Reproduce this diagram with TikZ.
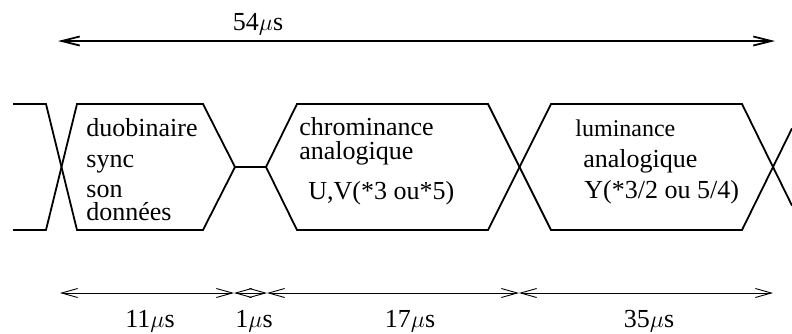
\documentclass[tikz,border=0pt]{standalone}
\usepackage{fontspec}
\setmainfont{Liberation Serif}
\usetikzlibrary{arrows.meta}

\begin{document}
\begin{tikzpicture}[
    x=0.5pt, y=-0.5pt,
    wave/.style={line width=0.9pt, line join=miter},
    span/.style={line width=0.9pt, {Straight Barb[length=9pt,width=4.5pt]}-{Straight Barb[length=9pt,width=4.5pt]}},
    part/.style={line width=0.45pt, {Straight Barb[length=8pt,width=4.5pt]}-{Straight Barb[length=8pt,width=4.5pt]}},
    txt/.style={anchor=base west, inner sep=0pt, font=\fontsize{13}{15}\selectfont},
    small/.style={txt, font=\fontsize{12}{14}\selectfont},
    dur/.style={anchor=base, inner sep=0pt, font=\fontsize{13}{15}\selectfont}
]
    \useasboundingbox (0,0) rectangle (792,333);

    % Total line duration
    \coordinate (ligne-a) at (58,41);
    \coordinate (ligne-b) at (775,41);
    \draw [span] (ligne-a) -- (ligne-b);
    \node [dur] (total) at (258,30) {54$\mu$s};

    % Waveform: levels at y=104 / 167 / 230
    \draw [wave] (13,104) -- (46,104) -- (77,230) -- (203,230) -- (235,167)
        -- (266,167) -- (297,230) -- (488,230) -- (551,104) -- (742,104) -- (792,205.6);
    \draw [wave] (13,230) -- (46,230) -- (77,104) -- (203,104) -- (235,167);
    \draw [wave] (266,167) -- (297,104) -- (488,104) -- (551,230) -- (742,230) -- (792,128.4);

    % Duobinary part
    \node [txt] (duo)  at (86,136) {duobinaire};
    \node [txt] (sync) at (86,167) {sync};
    \node [txt] (son)  at (86,197) {son};
    \node [txt] (data) at (86,220) {données};

    % Chroma part
    \node [txt] (chroma)  at (299,135) {chrominance};
    \node [txt] (analogU) at (299,159) {analogique};
    \node [txt] (uv)      at (308,199) {U,V(*3 ou*5)};

    % Luma part
    \node [small] (luma)    at (575,136) {luminance};
    \node [txt]   (analogY) at (583,167) {analogique};
    \node [txt]   (y)       at (584,198) {Y(*3/2 ou 5/4)};

    % Partial durations
    \foreach \n/\x in {t0/60, t1/234, t2/267, t3/519, t4/773}
        \coordinate (\n) at (\x,293);
    \draw [part] (t0) -- (t1);
    \draw [part] (t1) -- (t2);
    \draw [part] (t2) -- (t3);
    \draw [part] (t3) -- (t4);

    \node [dur] (d1) at (150,327) {11$\mu$s};
    \node [dur] (d2) at (254,327) {1$\mu$s};
    \node [dur] (d3) at (410,327) {17$\mu$s};
    \node [dur] (d4) at (649,327) {35$\mu$s};
\end{tikzpicture}
\end{document}
